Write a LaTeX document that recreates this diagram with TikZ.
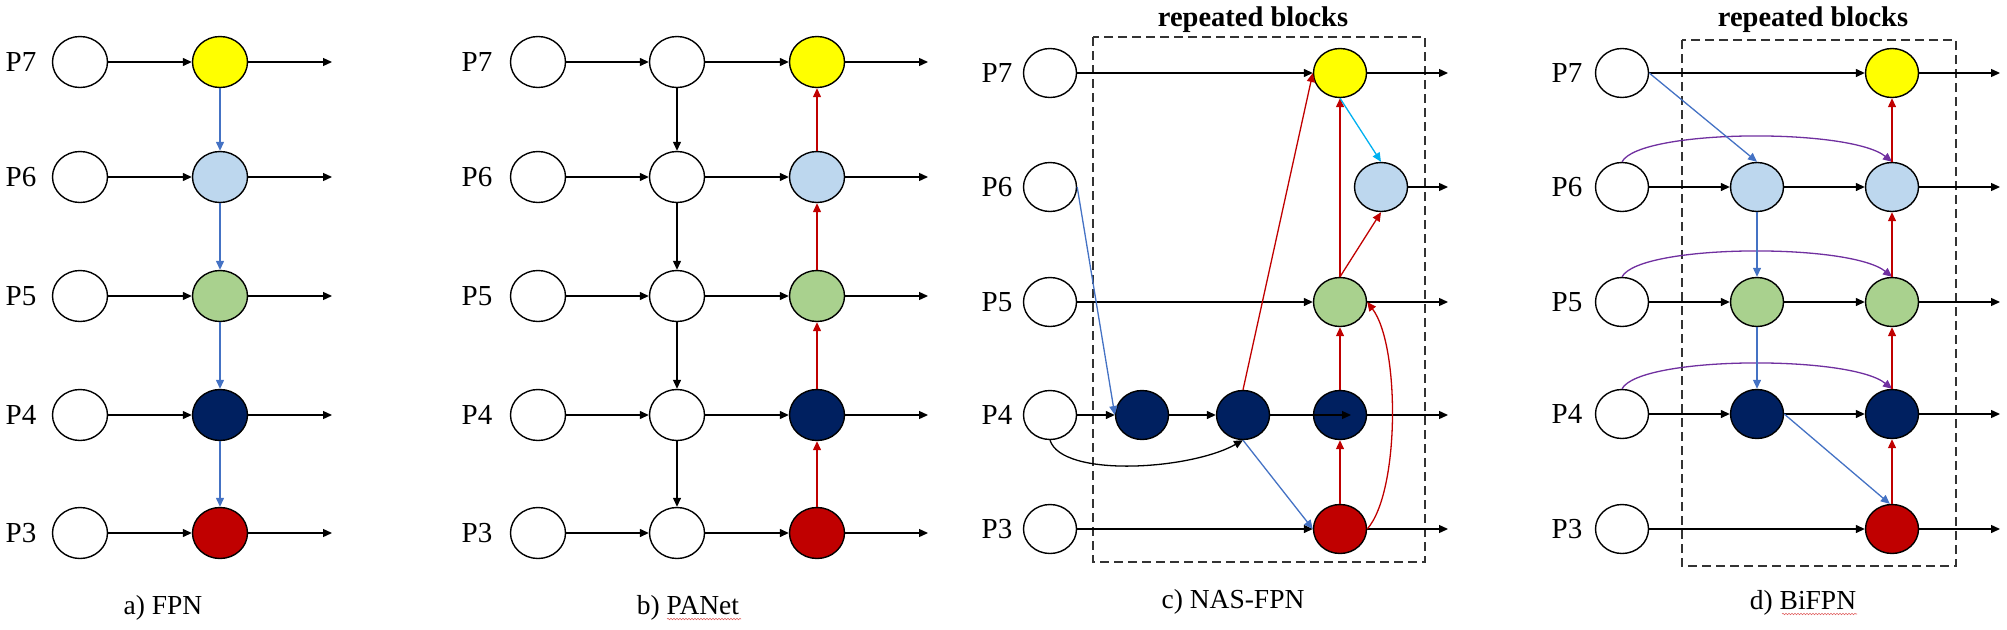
\documentclass[tikz,border=0pt]{standalone}
\usepackage{fontspec}
\setmainfont{Liberation Serif}
\usetikzlibrary{arrows.meta,shapes.geometric,decorations.pathmorphing}
\definecolor{cyel}{HTML}{FFFF00}
\definecolor{clb}{HTML}{BDD7EE}
\definecolor{cgr}{HTML}{A9D18E}
\definecolor{cnv}{HTML}{002060}
\definecolor{crd}{HTML}{C00000}
\definecolor{cbl}{HTML}{4472C4}
\definecolor{ccy}{HTML}{00B0F0}
\definecolor{cpu}{HTML}{7030A0}
\definecolor{cpk}{HTML}{E06060}
\begin{document}
\begin{tikzpicture}[x=1pt,y=-1pt,
  ell/.style={ellipse,draw,line width=1.4pt,fill=white,minimum width=55pt,minimum height=51pt,inner sep=0pt},
  ellc/.style={ellipse,draw,line width=1.4pt,fill=white,minimum width=53pt,minimum height=49pt,inner sep=0pt},
  lab/.style={font=\fontsize{29}{31}\selectfont,inner sep=0pt},
  captxt/.style={font=\fontsize{27.5}{29}\selectfont,inner sep=0pt},
  ttl/.style={font=\bfseries\fontsize{28.5}{30}\selectfont,inner sep=0pt,anchor=base},
  arr/.style={-{Triangle[length=9pt,width=8pt]},line width=1.3pt},
  bk/.style={arr,black},
  bl/.style={arr,cbl},
  rd/.style={arr,crd},
  cy/.style={arr,ccy},
  pu/.style={arr,cpu},
  rblock/.style={draw,line width=1.4pt,dash pattern=on 9pt off 5pt,black!80},
  squig/.style={draw=cpk,line width=0.6pt,decorate,decoration={snake,amplitude=0.7pt,segment length=3pt}}]
\useasboundingbox (0,0) rectangle (2007,629);

% ---------------- a) FPN ----------------
\foreach \n/\y/\c in {7/62/cyel,6/177/clb,5/296/cgr,4/415/cnv,3/533/crd}{
  \node[lab] (aP\n) at (21,\y) {P\n};
  \node[ell] (aL\n) at (80,\y) {};
  \node[ell,fill=\c] (aC\n) at (220,\y) {};
  \coordinate (aO\n) at (332,\y);
  \draw[bk] (aL\n) -- (aC\n);
  \draw[bk] (aC\n) -- (aO\n);
}
\foreach \u/\d in {7/6,6/5,5/4,4/3}{
  \draw[bl] (aC\u) -- (aC\d);
}
\node[captxt] (acap) at (163,608) {a) FPN};

% ---------------- b) PANet ----------------
\foreach \n/\y/\c in {7/62/cyel,6/177/clb,5/296/cgr,4/415/cnv,3/533/crd}{
  \node[lab] (bP\n) at (477,\y) {P\n};
  \node[ell] (bL\n) at (538,\y) {};
  \node[ell] (bM\n) at (677,\y) {};
  \node[ell,fill=\c] (bC\n) at (817,\y) {};
  \coordinate (bO\n) at (928,\y);
  \draw[bk] (bL\n) -- (bM\n);
  \draw[bk] (bM\n) -- (bC\n);
  \draw[bk] (bC\n) -- (bO\n);
}
\foreach \u/\d in {7/6,6/5,5/4,4/3}{
  \draw[bk] (bM\u) -- (bM\d);
  \draw[rd] (bC\d) -- (bC\u);
}
\node[captxt] (bcap) at (688,608) {b) PANet};
\draw[squig] (667,619) -- (741,619);

% ---------------- c) NAS-FPN ----------------
\draw[rblock] (1093,37) rectangle (1425,562);
\node[ttl] (ctitle) at (1253,26) {repeated blocks};
\foreach \n/\y in {7/73,6/187,5/302,4/415,3/529}{
  \node[lab] (cP\n) at (997,\y) {P\n};
  \node[ellc] (cL\n) at (1050,\y) {};
}
\node[ellc,fill=cyel] (c7) at (1340,73) {};
\node[ellc,fill=clb] (c6) at (1381,187) {};
\node[ellc,fill=cgr] (c5) at (1340,302) {};
\node[ellc,fill=cnv] (n1) at (1142,415) {};
\node[ellc,fill=cnv] (n2) at (1243,415) {};
\node[ellc,fill=cnv] (n3) at (1340,415) {};
\node[ellc,fill=crd] (c3) at (1340,529) {};
\coordinate (cO7) at (1448,73);
\coordinate (cO6) at (1448,187);
\coordinate (cO5) at (1448,302);
\coordinate (cO4) at (1448,415);
\coordinate (cO3) at (1448,529);
\coordinate (n3tip) at (1351,415);
\draw[bk] (cL7) -- (c7);
\draw[bk] (c7) -- (cO7);
\draw[bk] (c6) -- (cO6);
\draw[bk] (cL5) -- (c5);
\draw[bk] (c5) -- (cO5);
\draw[bk] (cL4) -- (n1);
\draw[bk] (n1) -- (n2);
\draw[bk] (n2.east) -- (n3tip);
\draw[bk] (n3) -- (cO4);
\draw[bk] (cL3) -- (c3);
\draw[bk] (c3) -- (cO3);
\draw[bk] (cL4.south) .. controls (1062,478) and (1190,470) .. (n2.south);
\draw[bl] (cL6.east) -- (n1.west);
\draw[bl] (n2.south) -- (c3.west);
\draw[rd] (c3) -- (n3);
\draw[rd] (n3) -- (c5);
\draw[rd] (c3.east) .. controls (1400,492) and (1400,345) .. (c5.east);
\draw[rd] (c5.north) -- (c7.south);
\draw[rd] (c5.north) -- (c6.south);
\draw[cy] (c7.south) -- (c6.north);
\draw[rd] (n2.north) -- (c7.west);
\node[captxt] (ccap) at (1233,602) {c) NAS-FPN};

% ---------------- d) BiFPN ----------------
\draw[rblock] (1682,40) rectangle (1956,566);
\node[ttl] (dtitle) at (1813,26) {repeated blocks};
\foreach \n/\y/\c in {7/73/cyel,6/187/clb,5/302/cgr,4/414/cnv,3/529/crd}{
  \node[lab] (dP\n) at (1567,\y) {P\n};
  \node[ellc] (dL\n) at (1622,\y) {};
  \node[ellc,fill=\c] (dR\n) at (1892,\y) {};
  \coordinate (dO\n) at (2000,\y);
  \draw[bk] (dR\n) -- (dO\n);
}
\foreach \n/\y/\c in {6/187/clb,5/302/cgr,4/414/cnv}{
  \node[ellc,fill=\c] (dM\n) at (1757,\y) {};
  \draw[bk] (dL\n) -- (dM\n);
  \draw[bk] (dM\n) -- (dR\n);
  \draw[pu] (dL\n.north) .. controls +(18,-33) and +(-42,-34) .. (dR\n.north);
}
\draw[bk] (dL7) -- (dR7);
\draw[bk] (dL3) -- (dR3);
\draw[bl] (dL7.east) -- (dM6.north);
\draw[bl] (dM6) -- (dM5);
\draw[bl] (dM5) -- (dM4);
\draw[bl] (dM4.east) -- (dR3.95);
\foreach \u/\d in {7/6,6/5,5/4,4/3}{
  \draw[rd] (dR\d) -- (dR\u);
}
\node[captxt] (dcap) at (1803,603) {d) BiFPN};
\draw[squig] (1782,614) -- (1857,614);
\end{tikzpicture}
\end{document}
